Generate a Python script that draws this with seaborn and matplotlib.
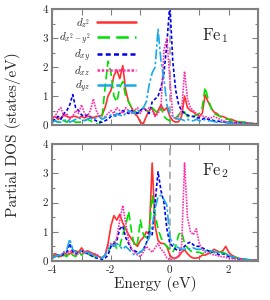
import numpy as np
import pandas as pd
import seaborn as sns
import matplotlib
matplotlib.use("Agg")
import matplotlib.pyplot as plt

# energy grid (eV), step 0.1 from -4 to 3
energy = np.round(np.arange(-4.0, 3.01, 0.1), 2)

orbitals = ["dz2", "dx2y2", "dxy", "dxz", "dyz"]
labels = [r"$d_{z^2}$", r"$d_{x^2-y^2}$", r"$d_{xy}$", r"$d_{xz}$", r"$d_{yz}$"]

# Fe1 partial DOS (states/eV)
fe1_dz2 = [0.25, 0.3, 0.2, 0.25, 0.35, 0.3, 0.25, 0.3, 0.3, 0.25,
           0.3, 0.25, 0.3, 0.3, 0.25, 0.3, 0.3, 0.35, 0.6, 1.0,
           1.2, 1.7, 1.9, 1.6, 2.05, 1.2, 0.8, 0.6, 0.4, 0.3,
           0.1, 0.05, 0.3, 0.5, 0.6, 0.3, 0.5, 0.7, 0.5, 0.6,
           0.3, 0.15, 0.1, 0.12, 0.3, 1.0, 0.6, 0.5, 0.45, 0.35,
           0.3, 0.4, 1.05, 0.8, 0.6, 0.45, 0.4, 0.3, 0.3, 0.25,
           0.2, 0.2, 0.15, 0.12, 0.1, 0.1, 0.08, 0.07, 0.06, 0.05, 0.05]
fe1_dx2y2 = [0.1, 0.15, 0.1, 0.2, 0.15, 0.1, 0.2, 0.15, 0.1, 0.1,
             0.1, 0.15, 0.2, 0.15, 0.1, 0.05, 0.0, 0.3, 1.3, 2.2,
             1.8, 1.0, 0.8, 1.3, 1.5, 1.0, 0.8, 0.6, 0.5, 0.4,
             0.5, 0.6, 0.5, 0.45, 0.6, 0.5, 0.4, 0.6, 0.3, 0.2,
             0.15, 0.2, 0.25, 0.35, 0.5, 0.45, 0.3, 0.25, 0.3, 0.35,
             0.4, 0.6, 1.3, 0.9, 0.6, 0.4, 0.35, 0.3, 0.25, 0.2,
             0.2, 0.15, 0.15, 0.12, 0.1, 0.1, 0.1, 0.08, 0.05, 0.03, 0.02]
fe1_dxy = [0.15, 0.2, 0.3, 0.2, 0.4, 0.5, 0.7, 1.05, 0.6, 0.5,
           0.35, 0.3, 0.35, 0.25, 0.2, 0.15, 0.1, 0.1, 0.15, 0.2,
           0.3, 0.35, 0.3, 0.4, 0.5, 0.45, 0.4, 0.5, 0.45, 0.4,
           0.5, 0.6, 0.5, 0.4, 0.8, 0.9, 1.0, 1.3, 1.8, 2.8,
           4.2, 2.2, 1.2, 0.7, 0.5, 0.4, 0.35, 0.3, 0.3, 0.25,
           0.25, 0.2, 0.25, 0.2, 0.2, 0.15, 0.15, 0.12, 0.12, 0.1,
           0.1, 0.1, 0.08, 0.08, 0.07, 0.06, 0.05, 0.05, 0.04, 0.03, 0.03]
fe1_dxz = [0.2, 0.3, 0.5, 0.6, 0.3, 0.4, 0.2, 0.3, 0.5, 0.4,
           0.7, 0.4, 0.3, 0.5, 0.9, 0.5, 0.3, 0.2, 0.3, 0.4,
           0.5, 0.4, 0.6, 0.5, 0.4, 0.6, 0.5, 0.4, 0.5, 0.6,
           0.4, 0.6, 0.5, 0.6, 0.5, 0.3, 0.4, 0.6, 2.6, 3.0,
           1.6, 0.3, 0.2, 0.3, 0.5, 1.85, 0.9, 0.6, 0.5, 0.4,
           0.35, 0.3, 0.3, 0.25, 0.25, 0.3, 0.25, 0.2, 0.15, 0.12,
           0.1, 0.1, 0.08, 0.07, 0.06, 0.05, 0.05, 0.04, 0.04, 0.03, 0.03]
fe1_dyz = [0.1, 0.15, 0.1, 0.1, 0.15, 0.2, 0.1, 0.15, 0.2, 0.25,
           0.2, 0.15, 0.2, 0.25, 0.2, 0.25, 0.3, 0.2, 0.25, 0.3,
           0.35, 0.3, 0.4, 0.35, 0.3, 0.4, 0.5, 0.45, 0.4, 0.5,
           0.5, 0.6, 0.8, 1.4, 1.8, 2.0, 3.3, 2.2, 1.6, 0.7,
           0.4, 0.3, 0.25, 0.2, 0.2, 0.15, 0.2, 0.15, 0.15, 0.2,
           0.15, 0.15, 0.2, 0.15, 0.15, 0.12, 0.1, 0.1, 0.1, 0.08,
           0.07, 0.06, 0.05, 0.05, 0.04, 0.04, 0.03, 0.03, 0.03, 0.02, 0.02]

# Fe2 partial DOS (states/eV)
fe2_dz2 = [0.2, 0.25, 0.2, 0.15, 0.3, 0.2, 0.25, 0.3, 0.35, 0.3,
           0.45, 0.3, 0.35, 0.3, 0.25, 0.2, 0.15, 0.1, 0.2, 0.6,
           1.2, 1.55, 1.4, 1.6, 1.3, 1.1, 0.9, 0.75, 0.6, 0.5,
           0.7, 0.8, 1.0, 0.9, 3.35, 1.2, 0.7, 0.6, 0.6, 0.5,
           0.2, 0.1, 0.1, 0.15, 0.3, 0.38, 0.25, 0.15, 0.1, 0.1,
           0.12, 0.2, 0.2, 0.25, 0.3, 0.4, 0.35, 0.3, 0.35, 0.5,
           0.3, 0.2, 0.15, 0.1, 0.08, 0.06, 0.05, 0.04, 0.03, 0.02, 0.02]
fe2_dx2y2 = [0.15, 0.2, 0.15, 0.1, 0.2, 0.15, 0.3, 0.2, 0.15, 0.35,
             0.2, 0.3, 0.25, 0.2, 0.15, 0.2, 0.15, 0.1, 0.2, 0.3,
             0.5, 0.7, 0.4, 0.5, 0.9, 1.2, 1.7, 1.0, 0.5, 0.6,
             1.4, 0.9, 0.8, 1.0, 2.25, 1.6, 1.1, 0.8, 0.6, 0.5,
             0.4, 0.3, 0.5, 0.9, 1.0, 0.6, 0.45, 0.35, 0.3, 0.3,
             0.3, 0.25, 0.3, 0.35, 0.3, 0.3, 0.25, 0.3, 0.3, 0.25,
             0.2, 0.15, 0.12, 0.1, 0.08, 0.06, 0.05, 0.04, 0.03, 0.02, 0.02]
fe2_dxy = [0.1, 0.15, 0.2, 0.15, 0.25, 0.3, 0.6, 0.3, 0.25, 0.3,
           0.35, 0.3, 0.25, 0.2, 0.15, 0.1, 0.1, 0.05, 0.1, 0.2,
           0.5, 0.6, 0.7, 1.1, 1.2, 0.8, 0.6, 0.4, 0.35, 0.3,
           0.3, 0.4, 0.6, 1.0, 0.9, 2.0, 3.05, 2.4, 2.0, 1.1,
           0.6, 0.5, 0.4, 0.35, 0.4, 0.5, 0.6, 0.65, 0.55, 0.5,
           0.5, 0.45, 0.4, 0.35, 0.3, 0.3, 0.25, 0.2, 0.25, 0.2,
           0.15, 0.12, 0.1, 0.08, 0.06, 0.05, 0.04, 0.03, 0.03, 0.02, 0.02]
fe2_dxz = [0.1, 0.2, 0.15, 0.2, 0.3, 0.25, 0.35, 0.3, 0.2, 0.25,
           0.3, 0.25, 0.3, 0.25, 0.2, 0.25, 0.15, 0.1, 0.2, 0.5,
           0.6, 0.5, 0.8, 1.4, 1.9, 1.3, 0.7, 0.4, 0.3, 0.2,
           0.15, 0.3, 0.5, 0.4, 0.3, 0.45, 0.6, 0.4, 0.3, 0.1,
           0.05, 0.05, 0.1, 0.2, 0.5, 3.35, 1.5, 1.0, 0.9, 1.1,
           0.6, 0.4, 0.3, 0.25, 0.25, 0.2, 0.2, 0.15, 0.15, 0.12,
           0.1, 0.08, 0.07, 0.06, 0.05, 0.04, 0.03, 0.03, 0.02, 0.02, 0.02]
fe2_dyz = [0.1, 0.15, 0.2, 0.2, 0.3, 0.4, 0.75, 0.4, 0.3, 0.3,
           0.35, 0.3, 0.3, 0.25, 0.2, 0.15, 0.1, 0.1, 0.2, 0.4,
           0.55, 0.5, 0.6, 0.5, 0.4, 0.5, 0.4, 0.3, 0.2, 0.25,
           0.3, 0.4, 0.6, 0.8, 1.2, 1.8, 2.2, 2.25, 2.1, 1.9,
           0.8, 0.6, 0.5, 0.45, 0.4, 0.4, 0.45, 0.4, 0.45, 0.4,
           0.4, 0.4, 0.35, 0.35, 0.35, 0.3, 0.3, 0.3, 0.25, 0.25,
           0.2, 0.15, 0.12, 0.1, 0.08, 0.06, 0.05, 0.04, 0.03, 0.02, 0.02]

fe1 = [fe1_dz2, fe1_dx2y2, fe1_dxy, fe1_dxz, fe1_dyz]
fe2 = [fe2_dz2, fe2_dx2y2, fe2_dxy, fe2_dxz, fe2_dyz]

colors = ["#ff3030", "#00e000", "#0000ee", "#ff2fa8", "#1aa8e8"]
styles = ["-", (0, (5, 2.5)), (0, (2, 1.3)), (0, (1, 0.7)), (0, (6, 1.5, 1.5, 1.5))]

sns.set_style("ticks")
plt.rcParams["font.family"] = "cmr10"
plt.rcParams["mathtext.fontset"] = "cm"
plt.rcParams["axes.unicode_minus"] = False

fig = plt.figure(figsize=(2.7, 3.0), dpi=100)
ax1 = fig.add_axes([0.193, 0.583, 0.763, 0.387])
ax2 = fig.add_axes([0.193, 0.130, 0.763, 0.390])

spine_col = "#808080"
for ax, data, name in [(ax1, fe1, "Fe$_1$"), (ax2, fe2, "Fe$_2$")]:
    ax.axvline(0, color="#aaaaaa", lw=1.3, ls=(0, (4, 2.5)), zorder=1)
    for vals, lab, c, ls in zip(data, labels, colors, styles):
        df = pd.DataFrame({"E": energy, "dos": vals})
        sns.lineplot(data=df, x="E", y="dos", ax=ax, color=c, lw=1.2,
                     linestyle=ls, label=lab, legend=False, zorder=2)
    ax.set_xlim(-4, 3)
    ax.set_ylim(0, 4)
    ax.set_xlabel("")
    ax.set_ylabel("")
    ax.set_xticks(np.arange(-4, 4, 1))
    ax.set_yticks([0, 1, 2, 3, 4])
    ax.set_yticks(np.arange(0.5, 4, 1), minor=True)
    ax.set_yticklabels(["0", "1", "2", "3", "4"])
    ax.tick_params(direction="in", top=True, right=True, color=spine_col,
                   length=4, width=0.8, labelsize=8, pad=3)
    ax.tick_params(which="minor", direction="in", right=True, left=True,
                   color=spine_col, length=2.5, width=0.8)
    for sp in ax.spines.values():
        sp.set_color(spine_col)
        sp.set_linewidth(1.5)
    ax.text(1.1, 3.1, name, fontsize=12, va="center")

ax1.set_xticklabels([])
ax2.set_xticklabels(["-4", "", "-2", "", "0", "", "2", ""])

leg = ax1.legend(loc="upper left", bbox_to_anchor=(0.0, 1.0), frameon=False,
                 markerfirst=False, fontsize=8, handlelength=3.5,
                 labelspacing=0.05, handletextpad=0.6, borderaxespad=0.2)
for line in leg.get_lines():
    line.set_linewidth(1.8)

ax2.set_xlabel("Energy (eV)", fontsize=11, labelpad=1)
fig.text(0.05, 0.55, "Partial DOS (states/eV)", rotation=90,
         fontsize=11, ha="center", va="center")

fig.savefig("out.png", dpi=100)
